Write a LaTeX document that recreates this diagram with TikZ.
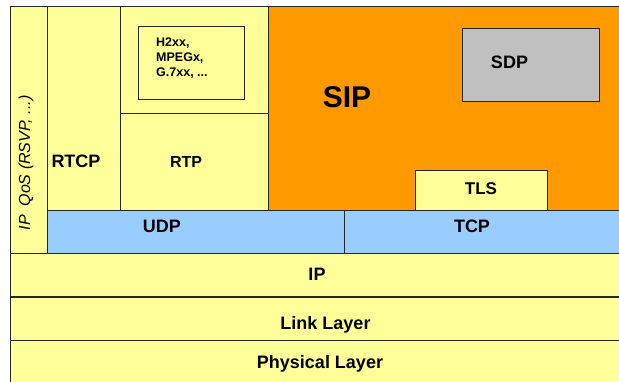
\documentclass[tikz,border=0pt]{standalone}
\usepackage{fontspec}
\setmainfont{Liberation Sans}
\definecolor{layeryellow}{HTML}{FFFF99}
\definecolor{siporange}{HTML}{FF9900}
\definecolor{portblue}{HTML}{99CCFF}
\definecolor{sdpgrey}{HTML}{C0C0C0}
\tikzstyle{layer}=[draw=black!85,line width=0.9pt,inner sep=0pt,outer sep=0pt,anchor=north west]
\tikzstyle{layertext}=[inner sep=0pt,anchor=base,font=\bfseries\fontsize{18}{20}\selectfont]
\newcommand{\pxunit}{1pt}

\begin{document}
\begin{tikzpicture}[x=\pxunit, y=-\pxunit]
    \useasboundingbox (0,0) rectangle (619,382);
    \clip (0,0) rectangle (619,382);
    % First we draw the layer boxes
    \foreach \pos/\w/\h/\col/\name in {
        {(10,6)/37/247/layeryellow/qos}, {(47,6)/73/204/layeryellow/rtcp},
        {(120,6)/148/107/layeryellow/media}, {(120,113)/148/97/layeryellow/rtp},
        {(268,6)/360/204/siporange/sip}, {(47,210)/297/43/portblue/udp},
        {(344,210)/285/43/portblue/tcp}, {(10,253)/620/43/layeryellow/ip},
        {(10,297.5)/620/43/layeryellow/link}, {(10,340.5)/620/50/layeryellow/phys},
        {(138,26)/106/73/layeryellow/codec}, {(462,28)/137/73/sdpgrey/sdp},
        {(415,170)/132/40/layeryellow/tls}}
        \node[layer,fill=\col,minimum width=\w,minimum height=\h] (\name) at \pos {};
    % Then the names of the layers
    \foreach \pos/\name/\txt in {
        {(76,167.5)/rtcptext/RTCP}, {(509.5,69)/sdptext/SDP}, {(162,233)/udptext/UDP},
        {(472,233)/tcptext/TCP}, {(317,281)/iptext/IP}, {(325.5,329.5)/linktext/Link Layer},
        {(320,368)/phystext/Physical Layer}}
        \node[layertext] (\name) at \pos {\txt};
    \node[layertext,font=\bfseries\fontsize{16}{18}\selectfont] (rtptext) at (186,167.5) {RTP};
    \node[layertext,font=\bfseries\fontsize{17}{19}\selectfont] (tlstext) at (481,195) {TLS};
    \node[layertext,font=\bfseries\fontsize{30}{32}\selectfont] (siptext) at (347,108) {SIP};
    \node[inner sep=0pt,anchor=north west,align=left,font=\bfseries\fontsize{12.5}{15}\selectfont]
        (codectext) at (156,38) {H2xx,\\MPEGx,\\G.7xx, ...};
    \node[inner sep=0pt,rotate=90,font=\itshape\fontsize{16}{18}\selectfont]
        (qostext) at (26,163) {IP~~QoS (RSVP, ...)};
\end{tikzpicture}
\end{document}
